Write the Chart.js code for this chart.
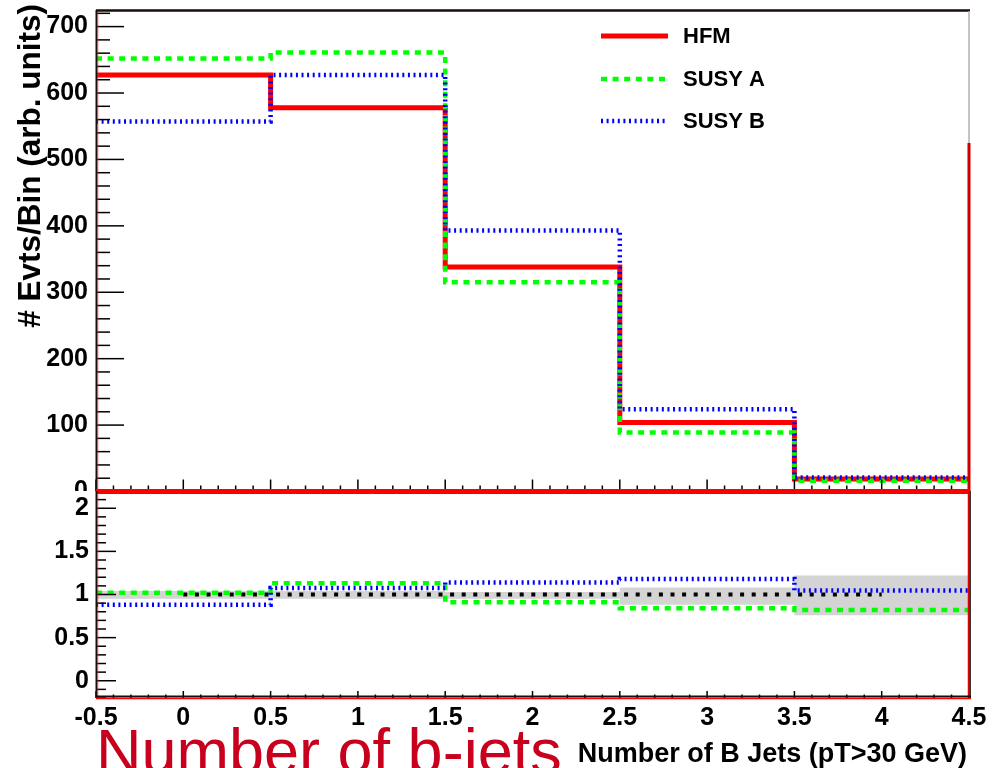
<!DOCTYPE html>
<html>
<head>
<meta charset="utf-8">
<script src="https://cdn.jsdelivr.net/npm/chart.js@4.4.1/dist/chart.umd.min.js"></script>
<style>
  html, body { margin: 0; padding: 0; background: #fff; width: 1004px; height: 768px; overflow: hidden; }
  #wrap { position: relative; width: 1004px; height: 768px; }
  canvas { position: absolute; left: 0; }
  #mainPad { top: 0; }
  #ratioPad { top: 491px; background: #fff; }
</style>
</head>
<body>
<div id="wrap">
  <canvas id="mainPad" width="1004" height="493"></canvas>
  <canvas id="ratioPad" width="1004" height="277"></canvas>
</div>
<script>
// ---- data ----
const binEdges = [-0.5, 0.5, 1.5, 2.5, 3.5, 4.5];
const binCenters = [0, 1, 2, 3, 4];
const hfm   = [627, 578, 338, 104, 19];
const susyA = [652, 661, 315, 89, 16];
const susyB = [557, 627, 393, 124, 21];
const ratioHFM = [1, 1, 1, 1, 1];
const ratioA   = [1.02, 1.13, 0.91, 0.84, 0.82];
const ratioB   = [0.88, 1.075, 1.14, 1.18, 1.045];
const bandLow  = [0.95, 0.95, 0.95, 0.88, 0.76];
const bandHigh = [1.04, 1.04, 1.03, 1.08, 1.22];
const xTicks = [-0.5, 0, 0.5, 1, 1.5, 2, 2.5, 3, 3.5, 4, 4.5];
const yMainTicks = [0, 100, 200, 300, 400, 500, 600, 700];
const yRatioTicks = [0, 0.5, 1, 1.5, 2];
const seriesNames = ['HFM', 'SUSY A', 'SUSY B'];
const yTitle = '# Evts/Bin (arb. units)';
const xTitle = 'Number of B Jets (pT>30 GeV)';
const captionText = 'Number of b-jets';

// ---- styles ----
const FONT = "'Liberation Sans', Arial, Helvetica, sans-serif";
const lineStyle = {
  'HFM':    { color: '#ff0000', width: 5,   dash: [] },
  'SUSY A': { color: '#00ff00', width: 4.5, dash: [6, 5.6] },
  'SUSY B': { color: '#0000ff', width: 4.5, dash: [2, 3.6] }
};
const ratioLine = { color: '#000000', width: 4, dash: [4, 7.6] };

Chart.defaults.font.family = FONT;
Chart.defaults.animation = false;

// histogram outline: one point per bin edge, value held until next edge
function stepPoints(vals) {
  return binEdges.map((e, i) => ({ x: e, y: vals[Math.min(i, vals.length - 1)] }));
}
function histDataset(name, vals, order) {
  const s = lineStyle[name];
  return {
    label: name, data: stepPoints(vals), stepped: 'before', order,
    borderColor: s.color, borderWidth: s.width, borderDash: s.dash,
    borderCapStyle: 'butt', borderJoinStyle: 'miter',
    pointRadius: 0, fill: false, tension: 0
  };
}

function line(ctx, x1, y1, x2, y2, color, w) {
  ctx.beginPath();
  ctx.strokeStyle = color; ctx.lineWidth = w; ctx.setLineDash([]);
  ctx.moveTo(x1, y1); ctx.lineTo(x2, y2); ctx.stroke();
}

// inward tick marks along an axis, major every `every` minor steps
function drawTicks(ctx, scale, area, lo, hi, step, every, majLen, minLen, side) {
  const k0 = Math.round(lo / step), k1 = Math.round(hi / step);
  for (let k = k0; k <= k1; k++) {
    const v = k * step;
    const len = (k % every === 0) ? majLen : minLen;
    const p = scale.getPixelForValue(v);
    if (side === 'left') line(ctx, area.left, p, area.left + len, p, '#000', 1.5);
    else line(ctx, p, area.bottom, p, area.bottom - len, '#000', 1.5);
  }
}

function fixedAxis(size, horizontal) {
  return function (scale) {
    if (horizontal) scale.height = size; else scale.width = size;
    scale.paddingTop = 0; scale.paddingBottom = 0;
    scale.paddingLeft = 0; scale.paddingRight = 0;
  };
}
function setTicks(list) {
  return function (scale) { scale.ticks = list.map(v => ({ value: v })); };
}
const tickFont = { family: FONT, size: 25, weight: 'bold' };

// ---- main pad: event yields per bin ----
const mainDecor = {
  id: 'mainDecor',
  afterDraw(chart) {
    const ctx = chart.ctx, a = chart.chartArea;
    const xs = chart.scales.x, ys = chart.scales.y;
    ctx.save();
    drawTicks(ctx, ys, a, 0, 720, 20, 5, 28, 14, 'left');
    drawTicks(ctx, xs, a, -0.5, 4.5, 0.1, 5, 12, 6, 'bottom');
    // frame
    line(ctx, a.left, a.top + 0.5, a.right + 1, a.top + 0.5, '#1a0a0a', 2.5);
    line(ctx, a.left + 0.5, a.top, a.left + 0.5, a.bottom, '#111', 2);
    line(ctx, a.left + 2, a.top + 2, a.left + 2, a.bottom, 'rgba(255,60,60,0.35)', 1.5);
    line(ctx, a.right, a.top + 1, a.right, 143, '#b0b0b0', 1.5);
    line(ctx, a.right, 143, a.right, a.bottom, '#cc0000', 3);
    line(ctx, a.left, a.bottom - 1, a.right, a.bottom - 1, '#ff0000', 3);

    // legend
    const rows = [36, 79, 121];
    seriesNames.forEach((name, i) => {
      const s = lineStyle[name];
      ctx.beginPath();
      ctx.strokeStyle = s.color; ctx.lineWidth = s.width; ctx.lineCap = 'butt';
      ctx.setLineDash(s.dash);
      ctx.moveTo(601, rows[i]); ctx.lineTo(668, rows[i]); ctx.stroke();
      ctx.setLineDash([]);
      ctx.fillStyle = '#000';
      ctx.font = 'bold 22px ' + FONT;
      ctx.textAlign = 'left'; ctx.textBaseline = 'middle';
      ctx.fillText(name, 683, rows[i] + 1);
    });

    // y-axis title
    ctx.save();
    ctx.translate(40, 4);
    ctx.rotate(-Math.PI / 2);
    ctx.font = 'bold 31.5px ' + FONT;
    ctx.fillStyle = '#000';
    ctx.textAlign = 'right'; ctx.textBaseline = 'alphabetic';
    ctx.fillText(yTitle, 0, 0);
    ctx.restore();
    ctx.restore();
  }
};

new Chart(document.getElementById('mainPad'), {
  type: 'line',
  data: {
    datasets: [
      histDataset('HFM', hfm, 3),
      histDataset('SUSY A', susyA, 2),
      histDataset('SUSY B', susyB, 1)
    ]
  },
  options: {
    responsive: false, devicePixelRatio: 1, events: [],
    layout: { padding: { left: 0, right: 35, top: 10, bottom: 1.5 } },
    plugins: { legend: { display: false }, tooltip: { enabled: false } },
    scales: {
      x: { type: 'linear', min: -0.5, max: 4.5, display: false },
      y: {
        type: 'linear', min: 0, max: 725,
        grid: { display: false, drawTicks: false }, border: { display: false },
        ticks: { font: tickFont, color: '#000', padding: 8, callback: v => String(v) },
        afterBuildTicks: setTicks(yMainTicks),
        afterFit: fixedAxis(96, false)
      }
    }
  },
  plugins: [mainDecor]
});

// ---- ratio pad: ratio to HFM ----
const ratioDecor = {
  id: 'ratioDecor',
  afterDraw(chart) {
    const ctx = chart.ctx, a = chart.chartArea;
    const xs = chart.scales.x, ys = chart.scales.y;
    ctx.save();
    drawTicks(ctx, ys, a, -0.2, 2.2, 0.1, 5, 20, 10, 'left');
    drawTicks(ctx, xs, a, -0.5, 4.5, 0.1, 5, 7, 3.5, 'bottom');
    // frame
    line(ctx, a.left, 1.5, a.right + 1, 1.5, '#ff0000', 3);
    line(ctx, a.left + 0.5, a.top, a.left + 0.5, a.bottom, '#111', 2);
    line(ctx, a.left + 2, a.top + 2, a.left + 2, a.bottom, 'rgba(255,60,60,0.35)', 1.5);
    line(ctx, a.right, a.top, a.right, a.bottom, '#dd0000', 2.5);
    line(ctx, a.right + 1.5, a.top, a.right + 1.5, a.bottom + 1, '#333', 1);
    line(ctx, a.left, a.bottom - 1.5, a.right + 2, a.bottom - 1.5, '#111', 2);
    line(ctx, a.left, a.bottom + 0.5, a.right + 2, a.bottom + 0.5, '#ff0000', 1.5);

    // x-axis title
    ctx.fillStyle = '#000';
    ctx.font = 'bold 27px ' + FONT;
    ctx.textAlign = 'right'; ctx.textBaseline = 'alphabetic';
    ctx.fillText(xTitle, 967, 762 - 491);

    // caption
    ctx.fillStyle = '#c8001e';
    ctx.font = '63px ' + FONT;
    ctx.textAlign = 'left';
    ctx.fillText(captionText, 96, 773 - 491);
    ctx.restore();
  }
};

const band = (vals, fill, order) => ({
  data: stepPoints(vals), stepped: 'before', order,
  borderColor: 'rgba(0,0,0,0)', borderWidth: 0, pointRadius: 0, tension: 0,
  backgroundColor: '#d4d4d4', fill
});

new Chart(document.getElementById('ratioPad'), {
  type: 'line',
  data: {
    datasets: [
      band(bandLow, false, 10),
      band(bandHigh, '-1', 9),
      {
        data: binCenters.map((c, i) => ({ x: c, y: ratioHFM[i] })), order: 3,
        borderColor: ratioLine.color, borderWidth: ratioLine.width, borderDash: ratioLine.dash,
        borderCapStyle: 'butt', pointRadius: 0, fill: false, tension: 0
      },
      histDataset('SUSY A', ratioA, 2),
      histDataset('SUSY B', ratioB, 1)
    ]
  },
  options: {
    responsive: false, devicePixelRatio: 1, events: [],
    layout: { padding: { left: 0, right: 35, top: 0, bottom: 0 } },
    plugins: { legend: { display: false }, tooltip: { enabled: false } },
    scales: {
      x: {
        type: 'linear', min: -0.5, max: 4.5,
        grid: { display: false, drawTicks: false }, border: { display: false },
        ticks: { font: tickFont, color: '#000', padding: 5, autoSkip: false,
                 maxRotation: 0, minRotation: 0, callback: v => String(v) },
        afterBuildTicks: setTicks(xTicks),
        afterFit: fixedAxis(70, true)
      },
      y: {
        type: 'linear', min: -0.2, max: 2.2,
        grid: { display: false, drawTicks: false }, border: { display: false },
        ticks: { font: tickFont, color: '#000', padding: 7, callback: v => String(v) },
        afterBuildTicks: setTicks(yRatioTicks),
        afterFit: fixedAxis(96, false)
      }
    }
  },
  plugins: [ratioDecor]
});
</script>
</body>
</html>
